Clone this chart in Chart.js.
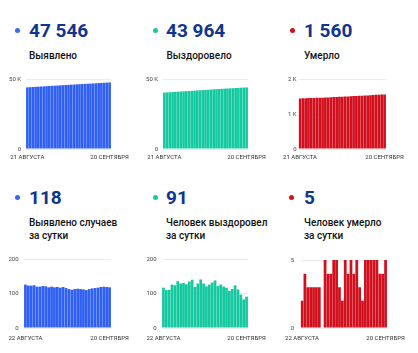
<!DOCTYPE html>
<html><head><meta charset="utf-8">
<script src="https://cdn.jsdelivr.net/npm/chart.js@4.4.1/dist/chart.umd.min.js"></script>
<style>
html,body{margin:0;padding:0;background:#fff}
body{width:418px;height:353px;position:relative;overflow:hidden;font-family:Roboto,"Noto Sans",sans-serif}
.num{position:absolute;font-weight:700;font-size:19px;line-height:19px;color:#0e3590;white-space:nowrap}
.dot{position:absolute;width:5px;height:5px;border-radius:50%}
.ttl{position:absolute;font-weight:500;font-size:10px;line-height:13px;color:#111;white-space:nowrap}
canvas{position:absolute}
</style></head><body>

<div class="dot" style="left:14.5px;top:28px;background:#3667f5"></div>
<div class="num" style="left:29px;top:21px" id="n0"></div>
<div class="ttl" style="left:29px;top:48.5px" id="t0"></div>
<canvas id="c0" width="139" height="95" style="left:0;top:70px"></canvas>

<div class="dot" style="left:152.5px;top:28px;background:#17c9a0"></div>
<div class="num" style="left:166px;top:21px" id="n1"></div>
<div class="ttl" style="left:166.5px;top:48.5px" id="t1"></div>
<canvas id="c1" width="139" height="95" style="left:139px;top:70px"></canvas>

<div class="dot" style="left:289.5px;top:28px;background:#d3101e"></div>
<div class="num" style="left:304px;top:21px" id="n2"></div>
<div class="ttl" style="left:304px;top:48.5px" id="t2"></div>
<canvas id="c2" width="140" height="95" style="left:278px;top:70px"></canvas>

<div class="dot" style="left:14.5px;top:194.5px;background:#3667f5"></div>
<div class="num" style="left:29px;top:188px" id="n3"></div>
<div class="ttl" style="left:29px;top:215.5px" id="t3"></div>
<canvas id="c3" width="139" height="94" style="left:0;top:250px"></canvas>

<div class="dot" style="left:152.5px;top:194.5px;background:#17c9a0"></div>
<div class="num" style="left:166px;top:188px" id="n4"></div>
<div class="ttl" style="left:166px;top:215.5px" id="t4"></div>
<canvas id="c4" width="139" height="94" style="left:139px;top:250px"></canvas>

<div class="dot" style="left:289px;top:194.5px;background:#d3101e"></div>
<div class="num" style="left:304px;top:188px" id="n5"></div>
<div class="ttl" style="left:304px;top:215.5px" id="t5"></div>
<canvas id="c5" width="140" height="94" style="left:278px;top:250px"></canvas>

<script>
// ---- data ----
const datesTotal = ['21 АВГУСТА','22 АВГУСТА','23 АВГУСТА','24 АВГУСТА','25 АВГУСТА','26 АВГУСТА','27 АВГУСТА','28 АВГУСТА','29 АВГУСТА','30 АВГУСТА','31 АВГУСТА','1 СЕНТЯБРЯ','2 СЕНТЯБРЯ','3 СЕНТЯБРЯ','4 СЕНТЯБРЯ','5 СЕНТЯБРЯ','6 СЕНТЯБРЯ','7 СЕНТЯБРЯ','8 СЕНТЯБРЯ','9 СЕНТЯБРЯ','10 СЕНТЯБРЯ','11 СЕНТЯБРЯ','12 СЕНТЯБРЯ','13 СЕНТЯБРЯ','14 СЕНТЯБРЯ','15 СЕНТЯБРЯ','16 СЕНТЯБРЯ','17 СЕНТЯБРЯ','18 СЕНТЯБРЯ','19 СЕНТЯБРЯ','20 СЕНТЯБРЯ'];
const datesDaily = ['22 АВГУСТА','23 АВГУСТА','24 АВГУСТА','25 АВГУСТА','26 АВГУСТА','27 АВГУСТА','28 АВГУСТА','29 АВГУСТА','30 АВГУСТА','31 АВГУСТА','1 СЕНТЯБРЯ','2 СЕНТЯБРЯ','3 СЕНТЯБРЯ','4 СЕНТЯБРЯ','5 СЕНТЯБРЯ','6 СЕНТЯБРЯ','7 СЕНТЯБРЯ','8 СЕНТЯБРЯ','9 СЕНТЯБРЯ','10 СЕНТЯБРЯ','11 СЕНТЯБРЯ','12 СЕНТЯБРЯ','13 СЕНТЯБРЯ','14 СЕНТЯБРЯ','15 СЕНТЯБРЯ','16 СЕНТЯБРЯ','17 СЕНТЯБРЯ','18 СЕНТЯБРЯ','19 СЕНТЯБРЯ','20 СЕНТЯБРЯ'];

const casesTotal = [44017,44143,44266,44389,44513,44633,44753,44875,44996,45114,45234,45352,45471,45588,45707,45823,45936,46047,46160,46274,46387,46499,46609,46722,46837,46953,47070,47189,47309,47428,47546];
const recoveredTotal = [40330,40447,40557,40668,40794,40918,41054,41183,41314,41441,41576,41716,41835,41964,42105,42234,42355,42481,42613,42751,42873,42999,43119,43236,43344,43457,43581,43693,43790,43873,43964];
const deathsTotal = [1445,1447,1451,1454,1457,1460,1463,1466,1466,1471,1475,1479,1484,1489,1492,1494,1499,1503,1508,1512,1517,1520,1522,1527,1532,1537,1542,1547,1551,1555,1560];

const casesDaily = [126,123,123,124,120,120,122,121,118,120,118,119,117,119,116,113,111,113,114,113,112,110,113,115,116,117,119,120,119,118];
const recoveredDaily = [117,110,111,126,124,136,129,131,127,135,140,119,129,141,129,121,126,132,138,122,126,120,117,108,113,124,112,97,83,91];
const deathsDaily = [2,4,3,3,3,3,3,0,5,4,4,5,5,3,2,5,4,5,4,5,3,2,5,5,5,5,5,4,4,5];

const headlines = ['47 546','43 964','1 560','118','91','5'];
const titles = ['Выявлено','Выздоровело','Умерло','Выявлено случаев<br>за сутки','Человек выздоровел<br>за сутки','Человек умерло<br>за сутки'];

const yTicksBig = [0, 50000];        const yLabelsBig = ['0','50 K'];
const yTicksDeaths = [0, 1000, 2000]; const yLabelsDeaths = ['0','1 K','2 K'];
const yTicksDaily = [0, 100, 200];    const yLabelsDaily = ['0','100','200'];
const yTicksDeathsDaily = [0, 5];     const yLabelsDeathsDaily = ['0','5'];

const BLUE = '#2f5ff3', GREEN = '#14c9a0', RED = '#d10f1d';

headlines.forEach((h,i)=>{document.getElementById('n'+i).textContent=h;});
titles.forEach((t,i)=>{document.getElementById('t'+i).innerHTML=t;});

function makeChart(id, labels, data, color, yTicks, yLabels, cfg){
  new Chart(document.getElementById(id), {
    type: 'bar',
    data: { labels: labels, datasets: [{ data: data, backgroundColor: color, borderWidth: 0, barPercentage: 0.95, categoryPercentage: 1 }] },
    options: {
      responsive: false, animation: false, devicePixelRatio: 1,
      layout: { padding: { left: 0, right: cfg.padRight, top: cfg.padTop, bottom: 0 } },
      plugins: { legend: { display: false }, tooltip: { enabled: false } },
      scales: {
        x: {
          grid: { display: false, drawTicks: false }, border: { display: false },
          ticks: { autoSkip: false, maxRotation: 0, minRotation: 0, padding: cfg.xPad, color: '#333',
            font: { family: 'Roboto', size: 6 },
            callback: function(v, i, t){ return (i === 0 || i === t.length - 1) ? this.getLabelForValue(v) : ''; } },
          afterFit: function(s){ s.height = 16; }
        },
        y: {
          min: yTicks[0], max: yTicks[yTicks.length - 1],
          grid: { color: '#ececec', drawTicks: false }, border: { display: false },
          afterBuildTicks: function(s){ s.ticks = yTicks.map(v => ({ value: v })); },
          ticks: { padding: cfg.yPad, color: '#444', font: { family: 'Roboto', size: 6 },
            callback: function(v, i){ return yLabels[i]; } },
          afterFit: function(s){ s.width = cfg.yWidth; }
        }
      }
    }
  });
}

makeChart('c0', datesTotal, casesTotal, BLUE, yTicksBig, yLabelsBig, {yWidth:26, padRight:28, padTop:9, xPad:4.7, yPad:5});
makeChart('c1', datesTotal, recoveredTotal, GREEN, yTicksBig, yLabelsBig, {yWidth:24, padRight:30, padTop:9, xPad:4.7, yPad:5});
makeChart('c2', datesTotal, deathsTotal, RED, yTicksDeaths, yLabelsDeaths, {yWidth:19, padRight:32, padTop:9, xPad:4.7, yPad:2});
makeChart('c3', datesDaily, casesDaily, BLUE, yTicksDaily, yLabelsDaily, {yWidth:24, padRight:28, padTop:8, xPad:6.7, yPad:5.5});
makeChart('c4', datesDaily, recoveredDaily, GREEN, yTicksDaily, yLabelsDaily, {yWidth:23, padRight:30, padTop:8, xPad:6.7, yPad:5.5});
makeChart('c5', datesDaily, deathsDaily, RED, yTicksDeathsDaily, yLabelsDeathsDaily, {yWidth:19, padRight:31, padTop:8, xPad:6.7, yPad:6.5});
</script>
</body></html>
